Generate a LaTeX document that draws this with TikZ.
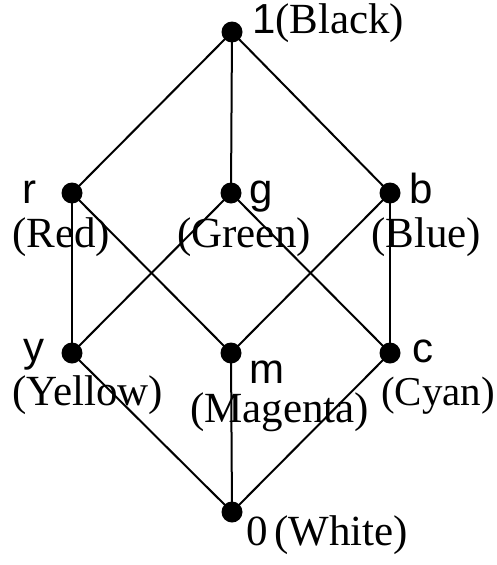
\documentclass[tikz,border=0pt]{standalone}
\usepackage{fontspec}
\setmainfont{Liberation Serif}
\newfontfamily\lblsans{Liberation Sans}
\begin{document}
\begin{tikzpicture}[x=1pt,y=-1pt,
  dot/.style={circle,fill=black,inner sep=0pt,minimum size=21pt},
  edge/.style={line width=2pt},
  sanslbl/.style={anchor=base west,inner sep=0pt,font=\lblsans\fontsize{42}{42}\selectfont},
  seriflbl/.style={anchor=base west,inner sep=0pt,font=\fontsize{43}{43}\selectfont}]
\useasboundingbox (0,0) rectangle (497,565);
\node[dot] (one) at (232,32) {};
\node[dot] (r) at (72,193) {};
\node[dot] (g) at (231,193) {};
\node[dot] (b) at (390,193) {};
\node[dot] (y) at (72,353) {};
\node[dot] (m) at (231,353) {};
\node[dot] (c) at (390,353) {};
\node[dot] (zero) at (232,512) {};
\draw[edge] (one.center) -- (r.center);
\draw[edge] (one.center) -- (g.center);
\draw[edge] (one.center) -- (b.center);
\draw[edge] (r.center) -- (y.center);
\draw[edge] (r.center) -- (m.center);
\draw[edge] (g.center) -- (y.center);
\draw[edge] (g.center) -- (c.center);
\draw[edge] (b.center) -- (m.center);
\draw[edge] (b.center) -- (c.center);
\draw[edge] (y.center) -- (zero.center);
\draw[edge] (m.center) -- (zero.center);
\draw[edge] (c.center) -- (zero.center);
% labels
\node[sanslbl] (lone) at (252,33) {1};
\node[seriflbl] (lblack) at (275,33) {(Black)};
\node[sanslbl] (lr) at (22,203) {r};
\node[seriflbl] (lred) at (12,247) {(Red)};
\node[sanslbl] (lg) at (249,203) {g};
\node[seriflbl] (lgreen) at (177,247) {(Green)};
\node[sanslbl] (lb) at (409,203) {b};
\node[seriflbl] (lblue) at (371,247) {(Blue)};
\node[sanslbl] (ly) at (23,361) {y};
\node[seriflbl] (lyellow) at (12,405) {(Yellow)};
\node[sanslbl] (lm) at (249,383) {m};
\node[seriflbl] (lmagenta) at (190,422) {(Magenta)};
\node[sanslbl] (lc) at (412,362) {c};
\node[seriflbl,font=\fontsize{41}{41}\selectfont] (lcyan) at (381,405) {(Cyan)};
\node[seriflbl] (lzero) at (246,545) {0};
\node[seriflbl] (lwhite) at (274,545) {(White)};
\end{tikzpicture}
\end{document}
